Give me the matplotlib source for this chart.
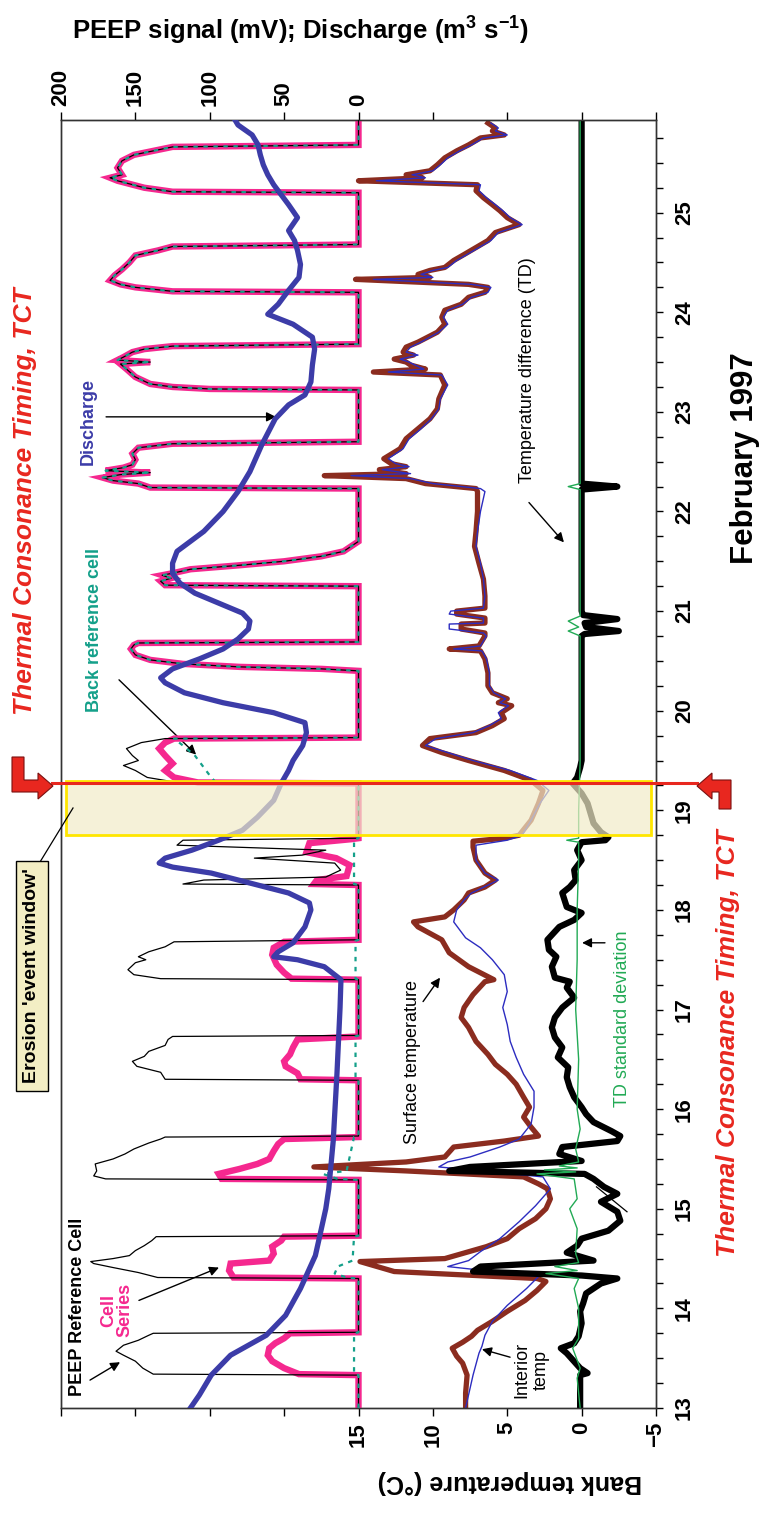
import numpy as np
import matplotlib
matplotlib.use('Agg')
import matplotlib.pyplot as plt
import matplotlib.transforms as mtransforms
from matplotlib.patches import Polygon
from matplotlib.lines import Line2D
from matplotlib.ticker import MultipleLocator

plt.rcParams['font.family'] = ['Liberation Sans', 'DejaVu Sans']
plt.rcParams['mathtext.fontset'] = 'custom'
plt.rcParams['mathtext.rm'] = 'Liberation Sans'
plt.rcParams['mathtext.bf'] = 'Liberation Sans:bold'

# ---- PEEP signals (mV), day of February 1997 ----
# early part (before the erosion event), three cells differ
ref_day = [13.00, 13.33, 13.34, 13.40, 13.47, 13.53, 13.57, 13.63, 13.68, 13.73, 13.75, 13.76,
           14.30, 14.31, 14.36, 14.41, 14.45, 14.47, 14.50, 14.53, 14.58, 14.63, 14.68, 14.72, 14.73,
           15.29, 15.30, 15.33, 15.38, 15.45, 15.50, 15.55, 15.60, 15.66, 15.70, 15.72, 15.73,
           16.29, 16.30, 16.37, 16.43, 16.48, 16.53, 16.58, 16.64, 16.70, 16.73, 16.74,
           17.30, 17.31, 17.35, 17.40, 17.47, 17.50, 17.53, 17.58, 17.63, 17.68, 17.70,
           18.25, 18.26, 18.30, 18.33, 18.40, 18.47, 18.52, 18.55, 18.60, 18.65, 18.70, 18.72,
           19.27, 19.28, 19.33, 19.40, 19.45, 19.50, 19.55, 19.62, 19.68, 19.72, 19.73]
ref_mv = [0, 0, 138, 145, 150, 158, 163, 158, 148, 141, 138, 0,
          0, 135, 148, 165, 178, 180, 165, 154, 150, 144, 139, 136, 0,
          0, 170, 178, 176, 177, 165, 157, 151, 141, 133, 130, 0,
          0, 130, 133, 149, 152, 144, 141, 130, 128, 125, 0,
          0, 133, 151, 155, 150, 143, 148, 141, 130, 124, 0,
          0, 118, 104, 22, 12, 16, 70, 38, 22, 122, 118, 0,
          0, 122, 142, 150, 158, 148, 152, 156, 146, 130, 0]

cell_day = [13.00, 13.33, 13.34, 13.40, 13.47, 13.53, 13.60, 13.65, 13.70, 13.75, 13.76,
            14.30, 14.31, 14.38, 14.45, 14.48, 14.55, 14.62, 14.68, 14.72, 14.73,
            15.29, 15.30, 15.35, 15.40, 15.45, 15.50, 15.58, 15.65, 15.70, 15.72,
            16.29, 16.30, 16.36, 16.43, 16.48, 16.55, 16.62, 16.70, 16.73,
            17.30, 17.31, 17.37, 17.45, 17.55, 17.62, 17.68, 17.70,
            18.25, 18.26, 18.30, 18.34, 18.45, 18.52, 18.58, 18.67, 18.71, 18.72,
            19.27, 19.28, 19.33, 19.40, 19.47, 19.55, 19.62, 19.68, 19.72, 19.73]
cell_mv = [0, 0, 40, 50, 58, 61, 60, 56, 50, 46, 0,
           0, 84, 87, 86, 60, 57, 58, 52, 50, 0,
           0, 92, 94, 80, 68, 60, 57, 54, 50, 0,
           0, 39, 41, 49, 50, 46, 44, 41, 0,
           0, 45, 50, 55, 58, 57, 50, 0,
           0, 30, 28, 8, 6, 15, 35, 33, 5, 0,
           0, 108, 124, 130, 125, 130, 134, 130, 124, 0]

back_day = [13.00, 13.33, 13.34, 13.75, 13.76, 14.30, 14.31, 14.35, 14.42, 14.48, 14.72, 14.73,
            15.29, 15.30, 15.35, 15.38, 15.72, 15.73, 16.29, 16.30, 16.73, 16.74,
            17.30, 17.31, 17.69, 17.70, 18.25, 18.26, 18.71, 18.72,
            19.27, 19.28, 19.35, 19.45, 19.55, 19.65, 19.72, 19.73]
back_mv = [0, 0, 3, 3, 0, 0, 8, 16, 14, 4, 3, 0,
           0, 14, 24, 8, 3, 0, 0, 2, 2, 0,
           0, 2, 2, 0, 0, 3, 3, 0,
           0, 96, 100, 105, 110, 118, 124, 0]

# later part: all three cells read the same
late_day = [20.40, 20.42, 20.44, 20.47, 20.51, 20.56, 20.62, 20.66, 20.68, 20.69,
            21.25, 21.26, 21.30, 21.33, 21.36, 21.38, 21.42, 21.46, 21.50, 21.55, 21.60, 21.65, 21.70,
            22.23, 22.24, 22.28, 22.31, 22.34, 22.37, 22.39, 22.41, 22.44, 22.47, 22.52, 22.58, 22.64, 22.68, 22.70,
            23.22, 23.23, 23.25, 23.28, 23.35, 23.43, 23.48, 23.50, 23.52, 23.55, 23.60, 23.63, 23.66, 23.68,
            24.20, 24.21, 24.25, 24.28, 24.32, 24.37, 24.43, 24.50, 24.57, 24.62, 24.66, 24.68,
            25.20, 25.21, 25.25, 25.32, 25.35, 25.38, 25.45, 25.52, 25.58, 25.62, 25.66, 25.68, 25.93]
late_mv = [0, 25, 80, 118, 140, 150, 153, 151, 148, 0,
           0, 130, 133, 126, 132, 125, 113, 80, 50, 25, 10, 5, 0,
           0, 140, 148, 165, 172, 160, 140, 170, 158, 152, 150, 152, 148, 125, 0,
           0, 100, 125, 140, 150, 156, 160, 140, 162, 158, 152, 144, 125, 0,
           0, 125, 150, 160, 167, 164, 159, 154, 150, 135, 125, 0,
           0, 125, 144, 162, 167, 159, 162, 159, 151, 138, 125, 0, 0]

# discharge (m3/s)
q_day = [13.00, 13.13, 13.33, 13.53, 13.73, 13.93, 14.20, 14.53, 14.73, 15.00, 15.20, 15.68, 16.35,
         17.02, 17.30, 17.43, 17.50, 17.53, 17.58, 17.67, 17.83, 18.00, 18.07, 18.17, 18.27, 18.37,
         18.43, 18.47, 18.52, 18.60, 18.70, 18.80, 18.93, 19.10, 19.27, 19.40, 19.50, 19.65, 19.78,
         19.88, 19.98, 20.08, 20.18, 20.28, 20.33, 20.42, 20.52, 20.62, 20.72, 20.82, 20.90, 20.98,
         21.08, 21.18, 21.28, 21.38, 21.48, 21.60, 21.80, 22.00, 22.20, 22.40, 22.67, 22.93, 23.07,
         23.17, 23.30, 23.47, 23.63, 23.75, 23.88, 23.98, 24.08, 24.22, 24.35, 24.48, 24.62, 24.72,
         24.82, 24.95, 25.08, 25.18, 25.28, 25.38, 25.48, 25.58, 25.68, 25.78, 25.88, 25.93]
q_val = [113, 107, 99, 86, 62, 49, 39, 29, 26, 22, 20, 17, 14.5,
         12.4, 11.8, 23, 41, 57, 54, 44, 36, 32, 33, 47, 73, 99,
         125, 134, 130, 112, 94, 78, 68, 57, 52, 47, 44, 37.5, 35,
         36, 57, 91, 117, 130, 133, 125, 107, 91, 81, 74, 73, 78,
         94, 110, 120, 125, 125, 122, 104, 91, 81, 73, 65, 56, 47,
         36, 32, 31, 29.5, 31, 44, 61, 54, 47, 40, 39, 41, 43,
         47, 41, 47, 52, 57, 61, 64, 66, 67.5, 71.5, 81, 83]

# ---- bank temperatures (deg C) ----
surf_day = [13.00, 13.15, 13.33, 13.45, 13.52, 13.60, 13.66, 13.72, 13.78, 13.87, 13.97, 14.08, 14.18,
            14.27, 14.30, 14.37, 14.47, 14.50, 14.56, 14.62, 14.70, 14.80, 14.90, 15.00, 15.10, 15.20,
            15.25, 15.32, 15.38, 15.42, 15.47, 15.52, 15.62, 15.68, 15.73, 15.82, 15.92, 16.02, 16.12,
            16.25, 16.35, 16.45, 16.55, 16.68, 16.82, 16.92, 17.02, 17.15, 17.28, 17.30, 17.43, 17.57,
            17.70, 17.83, 17.88, 17.93, 18.00, 18.10, 18.17, 18.23, 18.30, 18.37, 18.50, 18.63, 18.69,
            18.72, 18.75, 18.90, 19.07, 19.20, 19.30, 19.40, 19.50, 19.58, 19.65, 19.72, 19.78, 19.85,
            19.92, 19.98, 20.05, 20.08, 20.12, 20.18, 20.25, 20.38, 20.52, 20.60, 20.62, 20.65, 20.75,
            20.78, 20.82, 20.87, 20.88, 20.93, 20.97, 21.00, 21.03, 21.15, 21.32, 21.48, 21.65, 21.80,
            22.00, 22.20, 22.23, 22.28, 22.33, 22.36, 22.38, 22.42, 22.45, 22.48, 22.53, 22.63, 22.73,
            22.83, 22.93, 23.03, 23.13, 23.27, 23.37, 23.40, 23.43, 23.47, 23.50, 23.53, 23.57, 23.60,
            23.65, 23.70, 23.80, 23.88, 23.95, 24.02, 24.08, 24.15, 24.20, 24.25, 24.28, 24.33, 24.35,
            24.38, 24.42, 24.45, 24.52, 24.58, 24.65, 24.72, 24.80, 24.88, 24.95, 25.02, 25.08, 25.15,
            25.22, 25.28, 25.32, 25.35, 25.38, 25.42, 25.48, 25.55, 25.62, 25.68, 25.75, 25.78, 25.82,
            25.85, 25.90]
surf_t = [7.8, 7.8, 7.7, 8.0, 8.4, 8.7, 8.0, 7.4, 7.0, 6.0, 5.0, 3.8, 3.0,
          2.4, 3.0, 12.6, 14.9, 9.2, 7.8, 6.4, 5.0, 4.2, 3.1, 2.4, 2.1, 2.3,
          2.9, 3.9, 11.8, 18.0, 11.8, 9.2, 8.6, 5.2, 2.9, 3.4, 3.9, 3.5, 3.9,
          4.4, 5.0, 5.8, 6.3, 7.1, 7.6, 8.1, 7.9, 7.3, 6.5, 5.9, 7.6, 8.9,
          9.4, 11.0, 11.3, 9.2, 8.6, 7.9, 7.6, 6.5, 5.8, 6.5, 7.1, 7.3, 7.3,
          5.2, 4.2, 3.4, 2.9, 2.6, 3.4, 5.2, 7.6, 9.4, 10.7, 10.2, 7.1, 6.0,
          5.2, 5.4, 4.7, 5.6, 5.0, 6.0, 6.3, 6.3, 6.5, 6.8, 8.9, 6.9, 6.5,
          6.5, 8.1, 8.1, 6.5, 6.5, 8.4, 8.4, 6.5, 6.5, 6.6, 6.9, 7.2, 7.1,
          7.0, 7.0, 7.1, 10.5, 11.8, 17.3, 11.8, 13.6, 11.8, 12.8, 13.3, 12.2, 11.8,
          11.0, 10.2, 9.7, 9.6, 9.2, 9.5, 14.0, 10.5, 11.5, 11.8, 12.6, 11.3, 12.0,
          11.8, 11.0, 9.7, 9.2, 9.4, 9.2, 8.1, 7.6, 6.5, 6.3, 7.6, 15.2, 10.2,
          11.0, 10.2, 9.2, 8.6, 7.9, 7.1, 6.3, 5.8, 4.2, 5.0, 5.5, 6.0, 6.6,
          7.1, 7.0, 15.0, 10.7, 11.8, 10.2, 9.7, 9.2, 8.4, 7.6, 6.8, 5.2, 6.0,
          5.8, 6.3]

int_day = [13.00, 13.33, 13.55, 13.62, 13.73, 13.87, 14.03, 14.20, 14.32, 14.42, 14.48, 14.57, 14.70,
           14.87, 15.03, 15.20, 15.32, 15.42, 15.47, 15.52, 15.62, 15.70, 15.85, 16.02, 16.18, 16.35,
           16.52, 16.68, 16.85, 17.02, 17.18, 17.35, 17.50, 17.62, 17.72, 17.88, 18.00, 18.10, 18.17,
           18.27, 18.30, 18.37, 18.50, 18.65, 18.70, 18.75, 18.90, 19.07, 19.20, 19.30, 19.40, 19.50,
           19.58, 19.65, 19.72, 19.78, 19.85, 19.92, 19.98, 20.05, 20.08, 20.12, 20.18, 20.25, 20.38,
           20.52, 20.60, 20.62, 20.65, 20.75, 20.78, 20.82, 20.87, 20.88, 20.93, 20.97, 21.00, 21.03,
           21.15, 21.32, 21.48, 21.65, 21.80, 22.00, 22.20, 22.23, 22.28, 22.33, 22.36, 22.38, 22.42,
           22.45, 22.48, 22.53, 22.63, 22.73, 22.83, 22.93, 23.03, 23.13, 23.27, 23.37, 23.40, 23.43,
           23.47, 23.50, 23.53, 23.57, 23.60, 23.65, 23.70, 23.80, 23.88, 23.95, 24.02, 24.08, 24.15,
           24.20, 24.25, 24.28, 24.33, 24.35, 24.38, 24.42, 24.45, 24.52, 24.58, 24.65, 24.72, 24.80,
           24.88, 24.95, 25.02, 25.08, 25.15, 25.22, 25.28, 25.32, 25.35, 25.38, 25.42, 25.48, 25.55,
           25.62, 25.68, 25.75, 25.78, 25.82, 25.85, 25.90]
int_t = [7.8, 7.3, 6.9, 6.7, 6.5, 6.0, 5.0, 3.7, 2.9, 9.0, 7.6, 6.8, 5.5,
         4.2, 3.1, 2.1, 2.6, 9.6, 9.0, 7.5, 5.5, 4.2, 3.4, 3.2, 3.2, 3.9,
         4.4, 4.8, 5.0, 5.3, 5.0, 5.2, 6.0, 6.8, 7.8, 8.6, 8.4, 7.9, 7.4,
         6.0, 5.6, 6.5, 7.1, 7.1, 5.0, 4.0, 3.4, 2.8, 2.2, 3.0, 4.8, 7.3,
         9.0, 10.5, 9.8, 7.3, 6.2, 5.4, 5.6, 4.9, 5.5, 5.1, 5.9, 6.2, 6.2,
         6.4, 6.7, 8.6, 6.8, 6.4, 6.6, 8.9, 8.9, 6.6, 6.6, 8.9, 8.8, 6.6,
         6.5, 6.6, 6.8, 7.1, 7.0, 6.8, 6.5, 6.8, 10.0, 11.5, 15.5, 11.5, 13.4,
         11.6, 12.5, 13.0, 12.0, 11.6, 10.8, 10.1, 9.6, 9.5, 9.0, 9.4, 13.0, 10.6,
         11.2, 11.6, 12.2, 11.0, 11.8, 11.5, 10.8, 9.6, 9.0, 9.3, 9.0, 8.0, 7.4,
         6.3, 6.1, 7.4, 14.0, 10.0, 10.8, 10.0, 9.0, 8.4, 7.7, 6.9, 6.1, 5.6,
         4.0, 4.8, 5.3, 5.8, 6.4, 6.9, 6.8, 13.8, 10.5, 11.4, 10.0, 9.5, 9.0,
         8.2, 7.4, 6.6, 5.0, 5.8, 5.6, 6.1]

# temperature difference (TD) and its standard deviation
td_day = [13.00, 13.20, 13.33, 13.35, 13.40, 13.55, 13.60, 13.65, 13.72, 13.85, 13.97, 14.05, 14.15,
          14.25, 14.30, 14.33, 14.37, 14.42, 14.48, 14.56, 14.63, 14.70, 14.78, 14.88, 14.97, 15.07,
          15.15, 15.22, 15.30, 15.35, 15.38, 15.42, 15.48, 15.55, 15.62, 15.68, 15.73, 15.78, 15.87,
          15.95, 16.02, 16.12, 16.22, 16.32, 16.42, 16.52, 16.62, 16.72, 16.82, 16.92, 17.02, 17.12,
          17.22, 17.28, 17.32, 17.43, 17.53, 17.60, 17.70, 17.83, 17.90, 17.97, 18.03, 18.17, 18.23,
          18.30, 18.40, 18.50, 18.60, 18.68, 18.70, 18.73, 18.78, 18.87, 18.97, 19.07, 19.17, 19.27,
          19.33, 19.43, 19.50, 20.75, 20.77, 20.80, 20.84, 20.88, 20.92, 20.96, 21.00, 22.22, 22.25,
          22.28, 25.93]
td_t = [0.1, 0.1, 0.1, -0.4, 0.1, 1.0, 1.4, 0.5, 0.2, 0.0, 0.1, -0.1, -0.3,
        -1.3, -2.4, 0.0, 7.3, 6.8, -0.8, 1.0, 0.3, 0.0, -1.8, -2.6, -2.4, -1.3,
        -2.4, -1.5, -0.8, -0.2, 8.9, 7.5, 0.0, 1.5, 1.3, -2.4, -2.6, -2.0, -0.8,
        -0.3, 0.0, 0.5, 0.8, 1.0, 0.9, 1.6, 1.3, 1.8, 2.0, 1.8, 1.3, 0.5,
        1.0, 0.8, 1.8, 2.0, 1.7, 2.2, 2.3, 1.5, 0.5, 0.0, 1.0, 1.3, 0.8,
        0.4, 0.5, 0.0, 0.3, 0.0, -1.6, -1.8, -1.3, -0.8, -0.6, -0.4, 0.0, 0.6,
        0.3, 0.1, 0.0, 0.0, -0.2, -2.5, -0.3, -0.2, -2.4, -0.1, 0.0, 0.0, -2.4,
        0.0, 0.0]

sd_day = [13.00, 13.30, 13.40, 13.60, 13.70, 14.00, 14.20, 14.30, 14.35, 14.38, 14.42, 14.46, 14.55,
          14.80, 15.00, 15.10, 15.30, 15.35, 15.37, 15.39, 15.41, 15.43, 15.47, 15.60, 15.80, 16.00,
          16.50, 17.00, 17.50, 18.00, 18.50, 18.68, 18.70, 18.72, 19.00, 19.50, 20.75, 20.80, 20.84,
          20.90, 20.95, 22.22, 22.25, 22.28, 25.93]
sd_t = [0.1, 0.3, 0.1, 0.6, 0.2, 0.2, 0.5, 0.2, 2.4, 0.3, 1.8, 0.2, 0.4,
        0.3, 0.8, 0.3, 0.5, 3.0, 0.4, 2.5, 0.3, 1.5, 0.2, 0.4, 0.1, 0.3,
        0.2, 0.4, 0.3, 0.3, 0.2, 0.2, 1.0, 0.2, 0.2, 0.1, 0.1, 0.9, 0.2,
        0.9, 0.1, 0.1, 0.9, 0.1, 0.1]

tct_day = 19.27
window_days = (18.75, 19.29)

temp_ticks = [-5, 0, 5, 10, 15, 20, 25, 30, 35]
temp_labels = ['\u22125', '0', '5', '10', '15', '', '', '', '']
peep_ticks = [-200, -150, -100, -50, 0, 50, 100, 150, 200]
peep_labels = ['', '', '', '', '0', '50', '100', '150', '200']
day_ticks = list(range(13, 26))

RED = '#e8271f'
MAGENTA = '#f5288f'
TEAL = '#14a08a'
QBLUE = '#3c3ca8'
BROWN = '#8b2c1f'
IBLUE = '#2c2cc0'
GREEN = '#22aa55'

W, H = 762, 1518
fig = plt.figure(figsize=(W / 100, H / 100), dpi=100)
ax = fig.add_axes([61 / W, 1 - 1408 / H, 595 / W, 1288 / H])
ax2 = ax.twiny()

ax.set_xlim(35, -5)
ax2.set_xlim(200, -200)
ax.set_ylim(13, 25.93)

# PEEP traces
cell_d = cell_day + late_day
cell_v = cell_mv + late_mv
ref_d = ref_day + late_day
ref_v = ref_mv + late_mv
back_d = back_day + late_day
back_v = back_mv + late_mv
ax2.plot(cell_v, cell_d, color=MAGENTA, lw=4.6, solid_joinstyle='miter', zorder=2)
ax2.plot(ref_v, ref_d, color='black', lw=0.9, zorder=3)
ax2.plot(back_v, back_d, color=TEAL, lw=1.6, dashes=(2, 2.5), zorder=4)
ax2.plot(q_val, q_day, color=QBLUE, lw=3.8, zorder=5)

# temperature traces
ax.plot(surf_t, surf_day, color=BROWN, lw=3.8, zorder=2)
ax.plot(int_t, int_day, color=IBLUE, lw=1.0, zorder=3)
ax.plot(td_t, td_day, color='black', lw=4.5, zorder=4)
ax.plot(sd_t, sd_day, color=GREEN, lw=1.0, zorder=5)

# erosion event window
ax2.axhspan(window_days[0], window_days[1], xmin=0.008, xmax=0.992,
            facecolor='#f2ecc8', alpha=0.7, edgecolor='none', zorder=8)
ax2.axhspan(window_days[0], window_days[1], xmin=0.008, xmax=0.992,
            facecolor='none', edgecolor='#ffe600', lw=2.0, zorder=9)

# TCT line across the figure
bt = mtransforms.blended_transform_factory(fig.transFigure, ax.transData)
fig.add_artist(Line2D([52 / W, 697 / W], [tct_day, tct_day], transform=bt, color=RED, lw=2.2, zorder=10))


def fpt(x, y):
    return (x / W, 1 - y / H)


left_arrow = [(12, 757), (24, 757), (24, 780), (38, 780), (38, 773), (53, 786), (38, 799), (38, 792), (12, 792)]
right_arrow = [(697, 786), (712, 773), (712, 780), (731, 780), (731, 809), (719, 809), (719, 792), (712, 792), (712, 799)]
for pts in (left_arrow, right_arrow):
    fig.add_artist(Polygon([fpt(*p) for p in pts], closed=True, transform=fig.transFigure,
                           facecolor=RED, edgecolor='#7a1010', lw=0.8, zorder=11))

# axes styling
for a in (ax, ax2):
    for sp in a.spines.values():
        sp.set_linewidth(1.0)
        sp.set_color('#333333')

ax.set_xticks(temp_ticks)
ax.set_xticklabels(temp_labels, rotation=90, fontsize=16, fontweight='bold')
ax.tick_params(axis='x', direction='out', length=6, width=1, pad=4)
ax2.set_xticks(peep_ticks)
ax2.set_xticklabels(peep_labels, rotation=90, fontsize=16, fontweight='bold')
ax2.tick_params(axis='x', direction='out', length=6, width=1, pad=4)

ax.yaxis.tick_right()
ax.set_yticks(day_ticks)
ax.set_yticklabels([str(d) for d in day_ticks], rotation=90, fontsize=16, fontweight='bold', va='center')
ax.yaxis.set_minor_locator(MultipleLocator(0.25))
ax.tick_params(axis='y', which='both', direction='out', length=5, width=1, pad=8, left=False, right=True)

# axis titles
fig.text(300 / W, 1 - 30 / H, r'PEEP signal (mV); Discharge (m$^{\mathbf{3}}$ s$^{\mathbf{-1}}$)',
         ha='center', va='center', fontsize=18.5, fontweight='bold')
fig.text(510 / W, 1 - 1482 / H, 'Bank temperature (\u00b0C)', rotation=180,
         ha='center', va='center', fontsize=18, fontweight='bold')
fig.text(745 / W, 1 - 458 / H, 'February 1997', rotation=90,
         ha='center', va='center', fontsize=22.5, fontweight='bold')
fig.text(25 / W, 1 - 501 / H, 'Thermal Consonance Timing, TCT', rotation=90, color=RED,
         ha='center', va='center', fontsize=19, fontweight='bold', fontstyle='italic')
fig.text(728 / W, 1 - 1043 / H, 'Thermal Consonance Timing, TCT', rotation=90, color=RED,
         ha='center', va='center', fontsize=19, fontweight='bold', fontstyle='italic')

# erosion window label box
fig.text(32 / W, 1 - 976 / H, "Erosion 'event window'", rotation=90, ha='center', va='center',
         fontsize=14, fontweight='bold',
         bbox=dict(boxstyle='square,pad=0.4', facecolor='#f3eec4', edgecolor='black', lw=1.0))
fig.add_artist(Line2D([40 / W, 73 / W], [1 - 862 / H, 1 - 808 / H], transform=fig.transFigure,
                      color='black', lw=0.9))

arw = dict(arrowstyle='-|>', color='black', lw=1.0, mutation_scale=14, shrinkA=0, shrinkB=0)

# curve labels (temperature data coordinates)
ax.text(33.18, 22.90, 'Discharge', rotation=90, color=QBLUE, fontsize=13, fontweight='bold',
        ha='center', va='center')
ax.annotate('', xy=(20.55, 22.95), xytext=(31.97, 22.95), arrowprops=arw)
ax.text(32.78, 20.81, 'Back reference cell', rotation=90, color=TEAL, fontsize=13, fontweight='bold',
        ha='center', va='center')
ax.annotate('', xy=(25.92, 19.56), xytext=(31.1, 20.31), arrowprops=arw)
ax.text(3.67, 23.42, 'Temperature difference (TD)', rotation=90, fontsize=13,
        ha='center', va='center')
ax.annotate('', xy=(1.19, 21.69), xytext=(3.54, 22.09), arrowprops=arw)
ax.text(-2.78, 16.91, 'TD standard deviation', rotation=90, color=GREEN, fontsize=13,
        ha='center', va='center')
ax.annotate('', xy=(-0.03, 17.67), xytext=(-1.57, 17.67), arrowprops=arw)
ax.text(11.4, 16.47, 'Surface temperature', rotation=90, fontsize=13, ha='center', va='center')
ax.annotate('', xy=(9.52, 17.32), xytext=(10.66, 17.08), arrowprops=arw)
ax.text(3.34, 13.38, 'Interior\ntemp', rotation=90, fontsize=13, ha='center', va='center',
        multialignment='center')
ax.annotate('', xy=(6.70, 13.59), xytext=(4.81, 13.51), arrowprops=arw)
ax.text(33.86, 14.02, 'PEEP Reference Cell', rotation=90, fontsize=13, fontweight='bold',
        ha='center', va='center')
ax.annotate('', xy=(31.03, 13.46), xytext=(33.05, 13.28), arrowprops=arw)
ax.text(31.24, 13.98, 'Cell\nSeries', rotation=90, color=MAGENTA, fontsize=13, fontweight='bold',
        ha='center', va='center', multialignment='center', linespacing=1.0)
ax.annotate('', xy=(24.38, 14.41), xytext=(29.76, 14.08), arrowprops=arw)
ax.plot([-1.0, -3.05], [15.22, 14.97], color='black', lw=0.9, zorder=6)

fig.savefig('out.png', dpi=100)
